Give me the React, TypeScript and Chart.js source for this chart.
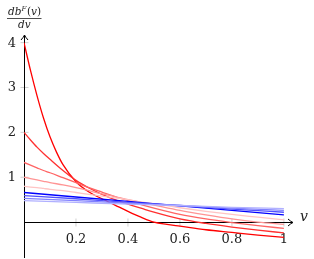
import React, { useEffect, useRef } from 'react';
import { Chart, registerables } from 'chart.js';
Chart.register(...registerables);

// v values at which the steepest curve was read
const vRed1 = [0, 0.025, 0.05, 0.075, 0.1, 0.125, 0.15, 0.2, 0.25, 0.3, 0.35, 0.4, 0.45, 0.5, 0.55, 0.6, 0.7, 0.8, 0.9, 1];
const red1 = [4, 3.38, 2.82, 2.32, 1.9, 1.56, 1.28, 0.9, 0.67, 0.52, 0.38, 0.24, 0.11, 0.0, -0.05, -0.09, -0.17, -0.23, -0.29, -0.34];

// v values at which the other red curves were read
const vGrid = [0, 0.025, 0.05, 0.075, 0.1, 0.15, 0.2, 0.25, 0.3, 0.35, 0.4, 0.45, 0.5, 0.6, 0.7, 0.8, 0.9, 1];
const red2 = [2, 1.83, 1.67, 1.53, 1.4, 1.15, 0.93, 0.76, 0.62, 0.5, 0.4, 0.31, 0.22, 0.07, -0.03, -0.11, -0.18, -0.24];
const red3 = [1.33, 1.27, 1.21, 1.15, 1.1, 0.99, 0.88, 0.77, 0.67, 0.57, 0.48, 0.39, 0.31, 0.17, 0.07, -0.01, -0.08, -0.14];
const red4 = [1.0, 0.97, 0.94, 0.91, 0.88, 0.83, 0.77, 0.7, 0.63, 0.57, 0.5, 0.44, 0.38, 0.26, 0.16, 0.07, 0.0, -0.05];
const red5 = [0.8, 0.78, 0.77, 0.75, 0.73, 0.7, 0.66, 0.62, 0.58, 0.54, 0.5, 0.45, 0.41, 0.32, 0.24, 0.17, 0.11, 0.05];

const vBlue = [0, 0.2, 0.4, 0.6, 0.8, 1];
const blue1 = [0.66, 0.56, 0.46, 0.36, 0.26, 0.16];
const blue2 = [0.59, 0.52, 0.44, 0.37, 0.29, 0.22];
const blue3 = [0.53, 0.48, 0.42, 0.37, 0.31, 0.26];
const blue4 = [0.48, 0.44, 0.40, 0.37, 0.33, 0.30];

const xTicks = [0.2, 0.4, 0.6, 0.8, 1];
const xTickLabels = ['0.2', '0.4', '0.6', '0.8', '1'];
const yTicks = [1, 2, 3, 4];
const yTickLabels = ['1', '2', '3', '4'];

const seriesList = [
  { xs: vBlue, ys: blue4, color: '#b0b0ff' },
  { xs: vBlue, ys: blue3, color: '#8080ff' },
  { xs: vBlue, ys: blue2, color: '#5050ff' },
  { xs: vBlue, ys: blue1, color: '#0000ff' },
  { xs: vGrid, ys: red5, color: '#ffc4c4' },
  { xs: vGrid, ys: red4, color: '#ff9494' },
  { xs: vGrid, ys: red3, color: '#ff6464' },
  { xs: vGrid, ys: red2, color: '#ff3030' },
  { xs: vRed1, ys: red1, color: '#ff0000' },
];

const SERIF = '"DejaVu Serif", serif';

function arrowHead(ctx: CanvasRenderingContext2D, tx: number, ty: number, dir: 'right' | 'up') {
  ctx.beginPath();
  if (dir === 'right') {
    ctx.moveTo(tx - 5, ty - 3.5);
    ctx.quadraticCurveTo(tx - 2, ty - 0.8, tx, ty);
    ctx.quadraticCurveTo(tx - 2, ty + 0.8, tx - 5, ty + 3.5);
  } else {
    ctx.moveTo(tx - 3.5, ty + 5);
    ctx.quadraticCurveTo(tx - 0.8, ty + 2, tx, ty);
    ctx.quadraticCurveTo(tx + 0.8, ty + 2, tx + 3.5, ty + 5);
  }
  ctx.stroke();
}

const axesPlugin = {
  id: 'axesPlugin',
  beforeDatasetsDraw(chart: any) {
    const { ctx, scales, chartArea } = chart;
    const xs = scales.x, ys = scales.y;
    const x0 = Math.round(xs.getPixelForValue(0)) + 0.5;
    const y0 = Math.round(ys.getPixelForValue(0)) + 0.5;
    ctx.save();
    ctx.strokeStyle = '#c4c4c4';
    ctx.lineWidth = 0.8;
    xTicks.forEach((t) => {
      const px = xs.getPixelForValue(t);
      ctx.beginPath(); ctx.moveTo(px, y0 - 4); ctx.lineTo(px, y0 + 4); ctx.stroke();
    });
    yTicks.forEach((t) => {
      const py = ys.getPixelForValue(t);
      ctx.beginPath(); ctx.moveTo(x0 - 4, py); ctx.lineTo(x0 + 4, py); ctx.stroke();
    });
    ctx.strokeStyle = '#000';
    ctx.lineWidth = 1;
    ctx.beginPath(); ctx.moveTo(x0, y0); ctx.lineTo(chartArea.right - 0.5, y0); ctx.stroke();
    ctx.beginPath(); ctx.moveTo(x0, chartArea.bottom); ctx.lineTo(x0, chartArea.top + 0.5); ctx.stroke();
    arrowHead(ctx, chartArea.right, y0, 'right');
    arrowHead(ctx, x0, chartArea.top, 'up');

    ctx.fillStyle = '#222';
    ctx.font = '13px ' + SERIF;
    ctx.textAlign = 'center';
    ctx.textBaseline = 'alphabetic';
    xTicks.forEach((t, i) => {
      ctx.fillText(xTickLabels[i], xs.getPixelForValue(t), 242.5);
    });
    ctx.textAlign = 'right';
    ctx.textBaseline = 'middle';
    yTicks.forEach((t, i) => {
      ctx.fillText(yTickLabels[i], 16, ys.getPixelForValue(t) + 0.5);
    });

    // x axis label
    ctx.textAlign = 'center';
    ctx.textBaseline = 'alphabetic';
    ctx.font = 'italic 14px ' + SERIF;
    ctx.fillText('v', 304, 221);

    // y axis label: fraction db^F(v) / dv
    const cx = 24.3;
    const big = 'italic 10.5px ' + SERIF;
    const up = '10.5px ' + SERIF;
    const sup = 'italic 7px ' + SERIF;
    const parts = [
      { t: 'db', f: big, dy: 0 },
      { t: 'F', f: sup, dy: -4 },
      { t: '(', f: up, dy: 0 },
      { t: 'v', f: big, dy: 0 },
      { t: ')', f: up, dy: 0 },
    ];
    let total = 0;
    const widths = parts.map((p) => { ctx.font = p.f; const w = ctx.measureText(p.t).width; total += w; return w; });
    let px = cx - total / 2;
    ctx.textAlign = 'left';
    parts.forEach((p, i) => {
      ctx.font = p.f;
      ctx.fillText(p.t, px, 14.5 + p.dy);
      px += widths[i] + (i === 1 ? 0.5 : 0);
    });
    ctx.strokeStyle = '#222';
    ctx.lineWidth = 0.8;
    ctx.beginPath(); ctx.moveTo(7, 18.5); ctx.lineTo(41.5, 18.5); ctx.stroke();
    ctx.font = big;
    ctx.textAlign = 'center';
    ctx.fillText('dv', cx, 27.5);
    ctx.restore();
  },
};

export default function App() {
  const ref = useRef<HTMLCanvasElement | null>(null);
  useEffect(() => {
    document.body.style.margin = '0';
    const canvas = ref.current;
    if (!canvas) return;
    const chart = new Chart(canvas, {
      type: 'line',
      data: {
        datasets: seriesList.map((s) => ({
          data: s.xs.map((v, i) => ({ x: v, y: s.ys[i] })),
          borderColor: s.color,
          backgroundColor: s.color,
          borderWidth: 1.3,
          pointRadius: 0,
          fill: false,
          cubicInterpolationMode: 'monotone' as const,
        })),
      },
      options: {
        responsive: false,
        animation: false,
        events: [],
        layout: { padding: { left: 24, right: 21, top: 35, bottom: 1 } },
        scales: {
          x: { type: 'linear', min: 0, max: 1.035, display: false },
          y: { type: 'linear', min: -0.8, max: 4.17, display: false },
        },
        plugins: { legend: { display: false }, tooltip: { enabled: false } },
      },
      plugins: [axesPlugin],
    });
    return () => chart.destroy();
  }, []);
  return <canvas ref={ref} width={314} height={259} style={{ display: 'block' }} />;
}
